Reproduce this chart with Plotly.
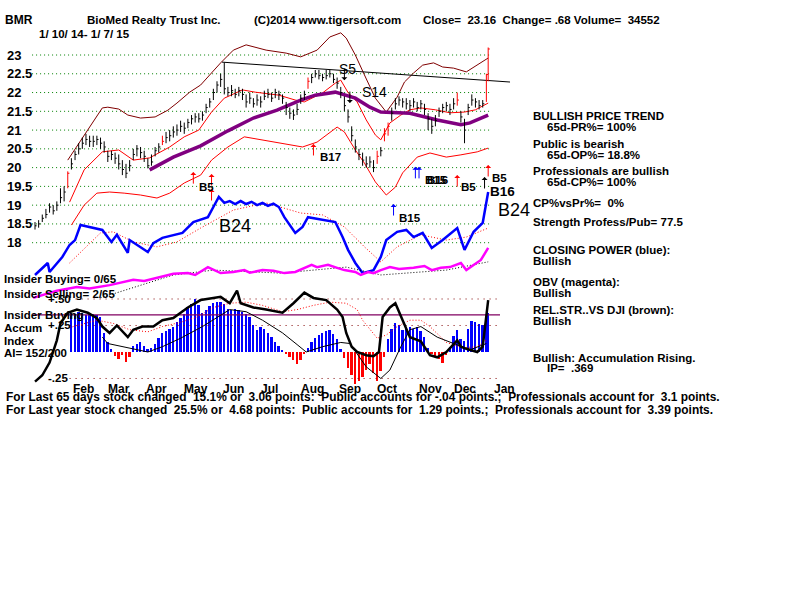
import plotly.graph_objects as go

# ---------------- DATA ----------------
# trading-day index 0 = 1/10/14 ... 249 = 1/7/15
bar_day = list(range(0, 249, 2)) + [249]
bar_close = [18.45, 18.5, 18.65, 18.75, 18.95, 18.85, 19.0, 19.2, 19.35, 19.85,
             20.1, 20.35, 20.5, 20.65, 20.75, 20.7, 20.7, 20.75, 20.65, 20.55,
             20.3, 20.35, 20.25, 20.1, 19.95, 19.85, 20.05, 20.35, 20.5, 20.4,
             20.3, 20.05, 20.15, 20.45, 20.55, 20.7, 20.8, 20.85, 20.95, 21.0,
             21.1, 21.05, 21.2, 21.3, 21.35, 21.3, 21.4, 21.6, 21.75, 22.0,
             22.2, 22.35, 22.1, 22.0, 22.05, 21.95, 22.05, 21.95, 21.75, 21.85,
             21.7, 21.8, 21.75, 21.9, 21.95, 21.85, 22.0, 21.95, 21.85, 21.6,
             21.45, 21.4, 21.55, 21.85, 21.95, 22.3, 22.4, 22.5, 22.45, 22.4,
             22.45, 22.5, 22.35, 22.25, 22.0, 21.65, 21.35, 20.85, 20.55, 20.35,
             20.2, 20.1, 20.15, 20.0, 20.3, 20.45, 20.9, 21.1, 21.45, 21.7,
             21.8, 21.75, 21.7, 21.65, 21.75, 21.6, 21.7, 21.55, 21.3, 21.1,
             21.25, 21.5, 21.6, 21.65, 21.55, 21.7, 21.8, 21.35, 21.0, 21.6,
             21.8, 21.75, 21.65, 21.7, 22.48,
             23.16]
bar_high = [18.55, 18.6, 18.75, 18.9, 19.05, 19.0, 19.1, 19.45, 19.5, 19.9,
            20.25, 20.45, 20.65, 20.8, 20.9, 20.85, 20.85, 20.85, 20.8, 20.7,
            20.45, 20.45, 20.4, 20.35, 20.2, 20.1, 20.2, 20.5, 20.6, 20.55,
            20.45, 20.25, 20.35, 20.55, 20.65, 20.85, 20.95, 21.0, 21.1, 21.15,
            21.25, 21.2, 21.3, 21.4, 21.45, 21.45, 21.5, 21.7, 21.85, 22.1,
            22.3, 22.5, 22.8, 22.15, 22.2, 22.1, 22.15, 22.1, 21.95, 22.0,
            21.85, 21.95, 21.9, 22.05, 22.1, 22.0, 22.1, 22.05, 21.95, 21.75,
            21.6, 21.55, 21.7, 21.95, 22.05, 22.4, 22.5, 22.6, 22.6, 22.5,
            22.6, 22.6, 22.5, 22.4, 22.15, 21.9, 21.55, 21.1, 20.75, 20.5,
            20.4, 20.3, 20.3, 20.2, 20.45, 20.55, 21.05, 21.2, 21.6, 21.85,
            21.9, 21.85, 21.85, 21.8, 21.85, 21.75, 21.8, 21.7, 21.45, 21.3,
            21.4, 21.6, 21.7, 21.75, 21.7, 21.85, 22.0, 21.5, 21.3, 21.7,
            21.95, 21.85, 21.8, 21.8, 22.5,
            23.2]
bar_low = [18.35, 18.4, 18.55, 18.65, 18.8, 18.75, 18.85, 19.05, 19.1, 19.45,
           19.95, 20.2, 20.35, 20.5, 20.6, 20.55, 20.55, 20.6, 20.5, 20.4,
           20.15, 20.2, 20.1, 19.95, 19.8, 19.72, 19.9, 20.2, 20.3, 20.25,
           20.15, 19.98, 20.05, 20.3, 20.4, 20.6, 20.65, 20.7, 20.8, 20.85,
           20.95, 20.9, 21.05, 21.15, 21.2, 21.2, 21.25, 21.45, 21.6, 21.8,
           22.0, 22.15, 21.95, 21.9, 21.9, 21.85, 21.9, 21.8, 21.6, 21.7,
           21.6, 21.65, 21.6, 21.8, 21.85, 21.75, 21.85, 21.8, 21.7, 21.4,
           21.3, 21.27, 21.4, 21.7, 21.8, 22.1, 22.25, 22.4, 22.35, 22.3,
           22.35, 22.4, 22.25, 22.1, 21.85, 21.5, 21.2, 20.7, 20.4, 20.2,
           20.05, 20.0, 20.0, 19.88, 20.1, 20.3, 20.7, 20.85, 21.25, 21.55,
           21.65, 21.6, 21.55, 21.5, 21.6, 21.5, 21.55, 21.4, 21.0, 20.9,
           21.1, 21.35, 21.45, 21.5, 21.4, 21.55, 21.65, 21.2, 20.65, 21.4,
           21.65, 21.6, 21.55, 21.6, 21.75,
           22.3]
red_bar_days = [18, 70, 150, 188, 192, 194, 232, 248, 249]

price_ticks = [23, 22.5, 22, 21.5, 21, 20.5, 20, 19.5, 19, 18.5, 18]
price_tick_text = ["23", "22.5", "22", "21.5", "21", "20.5", "20", "19.5", "19", "18.5", "18"]

upper_band_day = [18, 26, 34, 37, 40, 46, 51, 58, 66, 73, 78, 85, 91, 96, 102, 109, 116, 127, 138, 146,
                  155, 162, 168, 171, 176, 181, 187, 193, 199, 203, 208, 213, 219, 224, 230, 237, 243, 246, 249]
upper_band = [20.20, 20.79, 21.35, 21.59, 21.61, 21.56, 21.40, 21.32, 21.35, 21.53, 21.72, 22.01, 22.20, 22.47,
              22.79, 23.13, 23.27, 23.13, 23.05, 22.95, 23.13, 23.48, 23.59, 23.45, 23.00, 22.47, 21.85, 21.48,
              21.88, 22.28, 22.52, 22.73, 22.79, 22.68, 22.65, 22.55, 22.73, 22.81, 22.92]

ma21_day = [19, 27, 37, 46, 54, 63, 74, 82, 90, 97, 104, 114, 121, 134, 143, 148, 158, 165, 168, 172,
            177, 182, 187, 190, 195, 201, 206, 212, 220, 228, 236, 242, 249]
ma21 = [19.08, 19.94, 20.42, 20.47, 20.20, 20.26, 20.55, 20.82, 21.00, 21.48, 21.85, 22.07, 22.01, 21.93,
        21.80, 21.75, 21.99, 22.25, 22.33, 22.00, 21.75, 21.27, 20.87, 20.74, 21.19, 21.40, 21.54, 21.59,
        21.54, 21.46, 21.48, 21.54, 21.72]

lower_band_day = [20, 27, 34, 41, 49, 58, 67, 74, 82, 91, 97, 106, 115, 125, 134, 147, 155, 166, 170, 176,
                  181, 187, 193, 198, 202, 210, 217, 226, 234, 243, 249]
lower_band = [18.47, 19.00, 19.32, 19.35, 19.32, 19.27, 19.19, 19.32, 19.59, 19.80, 20.20, 20.55, 20.82,
              20.74, 20.66, 20.55, 20.68, 21.08, 20.95, 20.47, 20.12, 19.62, 19.27, 19.48, 19.86, 20.28,
              20.39, 20.28, 20.34, 20.42, 20.52]

ma65_day = [63, 76, 91, 106, 120, 133, 146, 154, 165, 176, 184, 190, 206, 221, 234, 239, 249]
ma65 = [19.94, 20.28, 20.58, 20.98, 21.32, 21.53, 21.80, 21.93, 22.01, 21.85, 21.61, 21.48, 21.45,
        21.27, 21.14, 21.19, 21.40]

trend_day = [102.7, 261]
trend = [22.81, 22.28]

cp_day = [0, 3, 7, 8, 12, 15, 19, 22, 25, 30, 37, 42, 45, 51, 52, 62, 65, 70, 81, 87,
          95, 98, 101, 104, 107, 110, 113, 116, 119, 122, 125, 128, 131, 134, 137, 143, 147, 150, 158, 165,
          169, 172, 176, 180, 186, 190, 193, 199, 204, 208, 213, 218, 224, 232, 236, 241, 246, 248, 249]
cp_line = [17.14, 17.27, 17.46, 17.22, 17.46, 17.62, 17.94, 18.07, 18.47, 18.42,
           18.34, 18.02, 18.21, 17.73, 18.07, 17.75, 17.99, 18.13, 18.26, 18.55,
           18.68, 18.95, 19.22, 19.06, 19.11, 19.03, 19.11, 19.03, 19.09, 19.00,
           19.06, 18.98, 19.04, 18.95, 18.68, 18.26, 18.42, 18.68, 18.60, 18.55,
           18.15, 17.81, 17.46, 17.19, 17.27, 17.62, 18.07, 18.29, 18.34, 18.15,
           18.26, 17.86, 18.07, 18.39, 17.81, 18.29, 18.53, 19.14, 19.35]
cp_ma_day = [19, 36, 43, 54, 67, 78, 91, 109, 127, 146, 158, 170, 181, 190, 199, 212, 226, 237, 249]
cp_ma = [17.46, 18.26, 18.29, 18.02, 17.89, 18.02, 18.39, 18.87, 19.06, 18.79, 18.74, 18.42, 17.89,
         17.49, 17.89, 18.21, 18.07, 18.15, 18.39]

obv_day = [-1, 8, 12, 23, 30, 41, 54, 60, 69, 76, 84, 88, 95, 102, 109, 115, 118, 125, 131, 137,
           143, 152, 155, 161, 166, 170, 176, 179, 183, 186, 190, 195, 200, 208, 214, 218, 223, 228, 234, 237,
           245, 249]
obv = [16.53, 16.66, 16.72, 16.82, 16.78, 16.87, 17.01, 16.98, 17.09, 17.17,
       17.19, 17.14, 17.35, 17.19, 17.22, 17.27, 17.20, 17.27, 17.25, 17.19,
       17.22, 17.41, 17.35, 17.41, 17.33, 17.27, 17.22, 17.14, 17.22, 17.19,
       17.27, 17.35, 17.30, 17.33, 17.38, 17.27, 17.33, 17.35, 17.46, 17.27,
       17.54, 17.86]
obv_ma_day = [36, 76, 98, 135, 171, 190, 226, 249]
obv_ma = [16.53, 17.14, 17.27, 17.19, 17.35, 17.14, 17.27, 17.49]

# Accumulation index (lower panel)
ai_day = list(range(20, 249, 2)) + [249]
ai = [0.37, 0.36, 0.38, 0.37, 0.35, 0.37, 0.36, 0.35, 0.33, 0.18,
      0.09, 0.03, -0.04, -0.07, -0.03, -0.09, -0.05, 0.06, 0.08, 0.09,
      0.06, 0.03, 0.04, 0.08, 0.13, 0.18, 0.2, 0.22, 0.24, 0.28,
      0.32, 0.36, 0.42, 0.45, 0.5, 0.44, 0.37, 0.4, 0.43, 0.46,
      0.47, 0.47, 0.45, 0.41, 0.4, 0.41, 0.4, 0.38, 0.36, 0.33,
      0.25, 0.21, 0.24, 0.22, 0.18, 0.14, 0.09, 0.06, 0.02, -0.02,
      -0.05, -0.08, -0.11, -0.08, -0.02, 0.04, 0.09, 0.13, 0.16, 0.18,
      0.2, 0.21, 0.17, 0.12, 0.03, -0.06, -0.15, -0.22, -0.3, -0.27,
      -0.24, -0.17, -0.11, -0.2, -0.27, -0.18, -0.05, 0.12, 0.22, 0.27,
      0.25, 0.21, 0.23, 0.24, 0.22, 0.24, 0.2, 0.14, 0.04, -0.02,
      -0.04, -0.07, -0.1, -0.03, 0.05, 0.15, 0.21, 0.12, 0.1, 0.22,
      0.29, 0.28, 0.26, 0.25, 0.3,
      0.37]
rs_day = [0, 4, 8, 12, 14, 18, 23, 29, 34, 37, 41, 45, 51, 54, 59, 65, 70, 76, 84, 91,
          98, 102, 107, 111, 113, 120, 127, 136, 142, 148, 153, 160, 166, 169, 171, 174, 177, 182, 186, 189,
          191, 195, 198, 202, 206, 212, 217, 221, 226, 232, 234, 237, 243, 246, 249]
rs = [-0.28, -0.22, -0.10, 0.11, 0.27, 0.37, 0.40, 0.37, 0.32, 0.24,
      0.18, 0.25, 0.14, 0.21, 0.24, 0.24, 0.30, 0.32, 0.42, 0.49,
      0.51, 0.52, 0.46, 0.58, 0.46, 0.42, 0.40, 0.37, 0.46, 0.56,
      0.51, 0.49, 0.40, 0.33, 0.18, 0.05, 0.00, -0.03, -0.04, 0.00,
      0.33, 0.42, 0.46, 0.30, 0.14, 0.10, -0.03, -0.05, 0.00, 0.11,
      0.05, 0.03, 0.00, 0.05, 0.49]
thin_day = [37, 40, 62, 70, 80, 92, 107, 116, 125, 136, 144, 149, 158, 168, 173, 182, 190, 195, 201, 206,
            212, 221, 230, 239, 248]
thin = [0.14, 0.08, 0.0, 0.05, 0.13, 0.24, 0.40, 0.38, 0.30, 0.18, 0.07, 0.0, 0.05, 0.09, 0.08, -0.14,
        -0.25, -0.17, 0.05, 0.21, 0.24, 0.14, 0.08, 0.02, 0.08]
ai_ma_day = [19, 34, 43, 52, 62, 70, 80, 89, 98, 107, 116, 125, 136, 144, 153, 162, 171, 177, 180, 184,
             188, 193, 199, 206, 212, 217, 226, 235, 243, 248]
ai_ma = [0.23, 0.30, 0.27, 0.21, 0.19, 0.24, 0.28, 0.33, 0.42, 0.46, 0.47, 0.44, 0.38, 0.40, 0.44, 0.47,
         0.46, 0.40, 0.30, 0.21, 0.13, 0.16, 0.24, 0.30, 0.30, 0.24, 0.09, 0.04, 0.05, 0.11]
ai_levels = [0.5, 0.25, -0.25]
ai_level_text = ["+.50", "+.25", "-.25"]
ai_ref_level = 0.35

month_names = ["Feb", "Mar", "Apr", "May", "Jun", "Jul", "Aug", "Sep", "Oct", "Nov", "Dec", "Jan"]
month_start = [15, 34, 55, 76, 97, 118, 140, 161, 182, 205, 224, 246]

# signals: day, arrow tip (price units), direction
sig_day = [87, 97, 97, 153, 170, 173, 197, 209, 211, 232, 247, 249]
sig_tip = [19.88, 19.83, 19.43, 20.63, 22.33, 21.72, 19.03, 20.02, 20.02, 19.80, 19.75, 20.07]
sig_dir = ["up", "up", "up", "up", "down", "down", "up", "up", "up", "up", "up", "up"]
sig_color = ["#ff0000", "#ff0000", "#ff0000", "#ff0000", "#000000", "#000000",
             "#0000ff", "#0000ff", "#0000ff", "#ff0000", "#000000", "#ff0000"]

# ---------------- FIGURE ----------------
FONT = "Liberation Sans, Arial, sans-serif"
W, H = 800, 600
fig = go.Figure()

# price grid (green dotted)
for p in price_ticks:
    fig.add_trace(go.Scatter(x=[-1.6, 250.5], y=[p, p], mode="lines",
                             line=dict(color="#008000", width=1, dash="1px,3px"), hoverinfo="skip"))

# bands and averages
fig.add_trace(go.Scatter(x=upper_band_day, y=upper_band, mode="lines", line=dict(color="#800000", width=1)))
fig.add_trace(go.Scatter(x=lower_band_day, y=lower_band, mode="lines", line=dict(color="#ff0000", width=1)))
fig.add_trace(go.Scatter(x=ma21_day, y=ma21, mode="lines", line=dict(color="#ff0000", width=1)))
fig.add_trace(go.Scatter(x=ma65_day, y=ma65, mode="lines", line=dict(color="#800080", width=3.5)))
fig.add_trace(go.Scatter(x=trend_day, y=trend, mode="lines", line=dict(color="#000000", width=1)))

# price bars
def bar_segments(red):
    xs, ys = [], []
    for d, h, l, c in zip(bar_day, bar_high, bar_low, bar_close):
        if (d in red_bar_days) != red:
            continue
        xs += [d, d, None, d, d + 0.9, None]
        ys += [l, h, None, c, c, None]
    return xs, ys

bx, by = bar_segments(False)
fig.add_trace(go.Scatter(x=bx, y=by, mode="lines", line=dict(color="#000000", width=1)))
rx, ry = bar_segments(True)
fig.add_trace(go.Scatter(x=rx, y=ry, mode="lines", line=dict(color="#ff0000", width=1)))

# closing power and OBV
fig.add_trace(go.Scatter(x=cp_ma_day, y=cp_ma, mode="lines", line=dict(color="#ff0000", width=1, dash="1px,2px")))
fig.add_trace(go.Scatter(x=cp_day, y=cp_line, mode="lines", line=dict(color="#0000ff", width=2.5)))
fig.add_trace(go.Scatter(x=obv_ma_day, y=obv_ma, mode="lines", line=dict(color="#000000", width=1, dash="1px,2px")))
fig.add_trace(go.Scatter(x=obv_day, y=obv, mode="lines", line=dict(color="#ff00ff", width=2.5)))

# lower panel (yaxis2)
for lv in ai_levels:
    fig.add_trace(go.Scatter(x=[19, 254], y=[lv, lv], yaxis="y2", mode="lines",
                             line=dict(color="#800000", width=1, dash="1px,5px")))
fig.add_trace(go.Bar(x=ai_day, y=ai, yaxis="y2", width=1.0,
                     marker=dict(color=["#0000ff" if v >= 0 else "#ff0000" for v in ai], line=dict(width=0))))
fig.add_trace(go.Scatter(x=[-1, 255.5], y=[ai_ref_level, ai_ref_level], yaxis="y2", mode="lines",
                         line=dict(color="#800060", width=1.2)))
fig.add_trace(go.Scatter(x=ai_ma_day, y=ai_ma, yaxis="y2", mode="lines",
                         line=dict(color="#ff0000", width=1, dash="1px,2px")))
fig.add_trace(go.Scatter(x=thin_day, y=thin, yaxis="y2", mode="lines", line=dict(color="#000000", width=1)))
fig.add_trace(go.Scatter(x=rs_day, y=rs, yaxis="y2", mode="lines", line=dict(color="#000000", width=2.5)))

ann = []

def T(px, py, s, size=11.5, bold=True, color="#000000", family=FONT):
    ann.append(dict(x=px / W, y=1 - py / H, xref="paper", yref="paper", text=("<b>%s</b>" % s) if bold else s,
                    showarrow=False, xanchor="left", yanchor="middle",
                    font=dict(family=family, size=size, color=color)))

NB = "\u00a0"
# header
T(3, 20, "BMR", 12)
T(85, 20, "BioMed Realty Trust Inc.", 11.5)
T(252, 20, "(C)2014 www.tigersoft.com", 11.5)
T(421, 20, "Close=" + NB * 2 + "23.16" + NB * 2 + "Change= .68 Volume=" + NB * 2 + "34552", 11.5)
T(37, 34, "1/ 10/ 14- 1/ 7/ 15", 11.5)

# price tick labels
for p, s in zip(price_ticks, price_tick_text):
    ann.append(dict(x=5 / W, y=p, xref="paper", yref="y", text="<b>%s</b>" % s, showarrow=False,
                    xanchor="left", yanchor="middle", font=dict(family=FONT, size=13, color="#000000")))

# signal arrows
for d, tp, dr, col in zip(sig_day, sig_tip, sig_dir, sig_color):
    ann.append(dict(x=d, y=tp, xref="x", yref="y", text="", showarrow=True, ax=0,
                    ay=13 if dr == "up" else -13, arrowhead=1, arrowsize=1, arrowwidth=1, arrowcolor=col))

# signal labels
T(197, 187, "B5", 11.5)
T(217, 226, "B24", 18, bold=False)
T(318, 157, "B17", 11.5)
T(337, 69, "S5", 14, bold=False)
T(360, 92, "S14", 14, bold=False)
T(397, 218, "B15", 11.5)
T(423, 180, "B15", 11.5)
T(425, 180, "B16", 11.5)
T(459, 187, "B5", 11.5)
T(490, 178, "B5", 11.5)
T(488, 191, "B16", 13.5)
T(496, 210, "B24", 18, bold=False)

# lower-left labels
T(2, 279, "Insider Buying= 0/65", 11.5)
T(2, 294, "Insider Selling= 2/65", 11.5)
T(2, 315, "Insider Buying", 11.5)
T(2, 328, "Accum", 11.5)
T(2, 341, "Index", 11.5)
T(2, 353, "AI= 152/200", 11.5)
for lv, s in zip(ai_levels, ai_level_text):
    ann.append(dict(x=46 / W, y=lv, xref="paper", yref="y2", text="<b>%s</b>" % s, showarrow=False,
                    xanchor="left", yanchor="middle", font=dict(family=FONT, size=11.5, color="#000000")))

# month labels
for m, d in zip(month_names, month_start):
    ann.append(dict(x=d + 5, y=1 - 389 / H, xref="x", yref="paper", text="<b>%s</b>" % m, showarrow=False,
                    xanchor="left", yanchor="middle", font=dict(family=FONT, size=12, color="#000000")))

# right panel texts
T(531, 116, "BULLISH PRICE TREND", 11.5)
T(545, 127, "65d-PR%= 100%", 11.5)
T(531, 144, "Public is bearish", 11.5)
T(545, 155, "65d-OP%= 18.8%", 11.5)
T(531, 171, "Professionals are bullish", 11.5)
T(545, 182, "65d-CP%= 100%", 11.5)
T(531, 203, "CP%vsPr%=" + NB * 2 + "0%", 11.5)
T(531, 222, "Strength Profess/Pub= 77.5", 11.5)
T(531, 250, "CLOSING POWER (blue):", 11.5)
T(531, 261, "Bullish", 11.5)
T(531, 282, "OBV (magenta):", 11.5)
T(531, 293, "Bullish", 11.5)
T(531, 310, "REL.STR..VS DJI (brown):", 11.5)
T(531, 321, "Bullish", 11.5)
T(531, 358, "Bullish: Accumulation Rising.", 11.5)
T(545, 368, "IP=" + NB * 2 + ".369", 11.5)

# bottom lines
T(4, 397, "For Last 65 days stock changed" + NB * 2 + "15.1% or" + NB * 2 + "3.06 points:" + NB * 2 +
  "Public accounts for -.04 points.;" + NB * 2 + "Professionals account for" + NB * 2 + "3.1 points.",
  11.9, bold=True)
T(4, 410, "For Last year stock changed" + NB * 2 + "25.5% or" + NB * 2 + "4.68 points:" + NB * 2 +
  "Public accounts for" + NB * 2 + "1.29 points.;" + NB * 2 + "Professionals account for" + NB * 2 + "3.39 points.",
  11.9, bold=True)

fig.update_layout(
    width=W, height=H, margin=dict(l=0, r=0, t=0, b=0),
    paper_bgcolor="white", plot_bgcolor="white", showlegend=False, bargap=0,
    xaxis=dict(range=[-19.23, 420.33], visible=False, fixedrange=True),
    yaxis=dict(range=[8.482, 24.465], visible=False, fixedrange=True),
    yaxis2=dict(range=[-2.340, 3.321], overlaying="y", visible=False, fixedrange=True),
    annotations=ann,
)

fig.write_html("out.html")
